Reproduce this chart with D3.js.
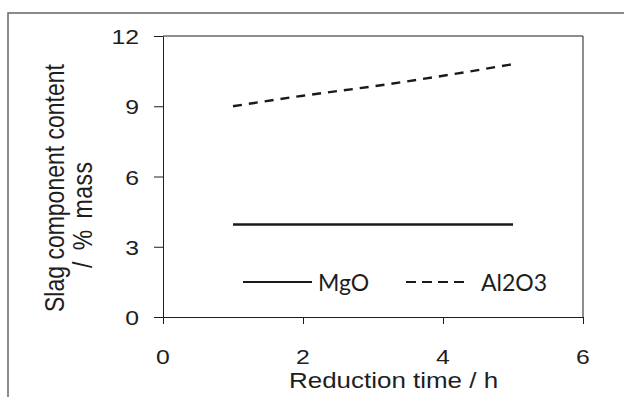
<!DOCTYPE html>
<html>
<head>
<meta charset="utf-8">
<script src="https://cdn.jsdelivr.net/npm/d3@7"></script>
<style>
  body { margin: 0; background: #fff; }
  svg { display: block; }
</style>
</head>
<body>
<svg width="624" height="397"></svg>
<script>
// data
let timeH = [1, 2, 3, 4, 5];
let mgo = [3.95, 3.95, 3.95, 3.95, 3.95];
let al2o3 = [9.0, 9.45, 9.85, 10.3, 10.8];
let xTicks = [0, 2, 4, 6];
let yTicks = [0, 3, 6, 9, 12];
let seriesNames = ['MgO', 'Al2O3'];

document.addEventListener('DOMContentLoaded', function() {
    let svg = d3.select('svg');
    let ink = '#1e1e1e';
    let stretch = 1.18; // text in the picture is a bit wide

    // outer frame (right and bottom fall outside the picture)
    svg.append('path')
        .attr('d', 'M8,400 L8,13 L630,13')
        .attr('fill', 'none')
        .attr('stroke', '#666')
        .attr('stroke-width', 1.5);

    let x = d3.scaleLinear().domain([0, 6]).range([163, 583]);
    let y = d3.scaleLinear().domain([0, 12]).range([317, 36]);

    // plot box top + right
    svg.append('path')
        .attr('d', `M${x(0)},${y(12)} L${x(6)},${y(12)} L${x(6)},${y(0)}`)
        .attr('fill', 'none')
        .attr('stroke', ink)
        .attr('stroke-width', 1);

    let yAxis = svg.append('g')
        .attr('transform', `translate(${x(0)},0)`)
        .call(d3.axisLeft(y).tickValues(yTicks).tickSize(9).tickSizeOuter(0).tickFormat(''));
    let xAxis = svg.append('g')
        .attr('transform', `translate(0,${y(0)})`)
        .call(d3.axisBottom(x).tickValues(xTicks).tickSize(7).tickSizeOuter(0).tickFormat(''));
    [yAxis, xAxis].forEach(function(g) {
        g.selectAll('path, line').attr('stroke', ink).attr('stroke-width', 1);
    });

    let tickFont = 'Liberation Sans, Arial, sans-serif';

    svg.append('g').selectAll('text')
        .data(yTicks)
        .join('text')
        .attr('transform', d => `translate(139,${y(d) + 8}) scale(${stretch},1)`)
        .attr('text-anchor', 'end')
        .attr('font-family', tickFont)
        .attr('font-size', 21)
        .attr('fill', ink)
        .text(d => d);

    svg.append('g').selectAll('text')
        .data(xTicks)
        .join('text')
        .attr('transform', d => `translate(${x(d)},364) scale(${stretch},1)`)
        .attr('text-anchor', 'middle')
        .attr('font-family', tickFont)
        .attr('font-size', 21)
        .attr('fill', ink)
        .text(d => d);

    // axis titles
    svg.append('text')
        .attr('transform', `translate(289,388) scale(${stretch},1)`)
        .attr('font-family', tickFont)
        .attr('font-size', 22)
        .attr('fill', ink)
        .text('Reduction time / h');

    svg.append('text')
        .attr('transform', `translate(64,312) scale(${stretch},1) rotate(-90)`)
        .attr('font-family', tickFont)
        .attr('font-size', 23)
        .attr('fill', ink)
        .text('Slag component content');
    svg.append('text')
        .attr('transform', `translate(92,268) scale(${stretch},1) rotate(-90)`)
        .attr('font-family', tickFont)
        .attr('font-size', 23)
        .attr('fill', ink)
        .attr('word-spacing', 4)
        .attr('letter-spacing', 0.5)
        .text('/ % mass');

    // series
    let line = d3.line()
        .x(d => x(d[0]))
        .y(d => y(d[1]))
        .curve(d3.curveMonotoneX);

    let series = [
        { name: seriesNames[0], values: d3.zip(timeH, mgo), dash: null },
        { name: seriesNames[1], values: d3.zip(timeH, al2o3), dash: '9,7' }
    ];

    svg.append('g').selectAll('path')
        .data(series)
        .join('path')
        .attr('d', d => line(d.values))
        .attr('fill', 'none')
        .attr('stroke', '#1a1a1a')
        .attr('stroke-width', 2.4)
        .attr('stroke-dasharray', d => d.dash);

    // legend
    let legendX = [243, 406];
    let lg = svg.append('g').selectAll('g')
        .data(series)
        .join('g')
        .attr('transform', (d, i) => `translate(${legendX[i]},282)`);
    lg.append('line')
        .attr('x1', 0).attr('x2', (d, i) => i === 0 ? 69 : 60)
        .attr('stroke', '#1a1a1a')
        .attr('stroke-width', 2.2)
        .attr('stroke-dasharray', d => d.dash ? '10,6' : null);
    lg.append('text')
        .attr('x', 75)
        .attr('y', 8.5)
        .attr('font-family', 'Lato, Open Sans, sans-serif')
        .attr('font-size', 23)
        .attr('fill', ink)
        .text(d => d.name);
});
</script>
</body>
</html>
